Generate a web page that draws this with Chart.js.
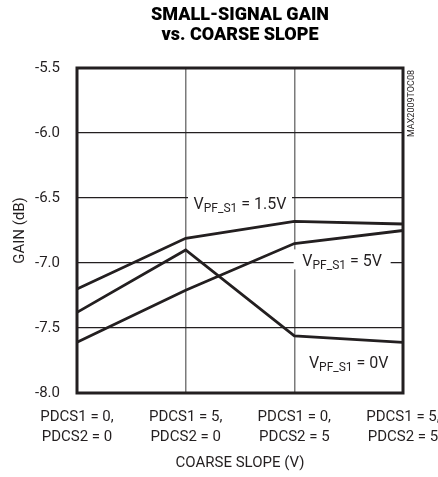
<!DOCTYPE html>
<html>
<head>
<meta charset="utf-8">
<script src="https://cdn.jsdelivr.net/npm/chart.js@4"></script>
<style>
  html, body { margin: 0; padding: 0; background: #fff; }
  #wrap { width: 438px; height: 477px; }
</style>
</head>
<body>
<div id="wrap"><canvas id="chart"></canvas></div>
<script>
// data
const slopeLabels = [
  ['PDCS1 = 0,', 'PDCS2 = 0'],
  ['PDCS1 = 5,', 'PDCS2 = 0'],
  ['PDCS1 = 0,', 'PDCS2 = 5'],
  ['PDCS1 = 5,', 'PDCS2 = 5']
];
const gain15V = [-7.20, -6.81, -6.68, -6.70];
const gain0V = [-7.38, -6.90, -7.56, -7.61];
const gain5V = [-7.61, -7.21, -6.85, -6.75];

// curve labels, in data units (x = category index, y = dB)
const curveNotes = [
  { sub: 'PF_S1', rest: ' = 1.5V', x: 1.5, y: -6.54, box: 104 },
  { sub: 'PF_S1', rest: ' = 5V', x: 2.44, y: -6.98, box: 97 },
  { sub: 'PF_S1', rest: ' = 0V', x: 2.5, y: -7.76, box: 0 }
];

const FONT = 'Roboto, "Liberation Sans", sans-serif';
const INK = '#231f20';

const framePlugin = {
  id: 'frame',
  afterDraw(chart) {
    const { ctx, chartArea: a, scales } = chart;
    ctx.save();
    // curve labels
    curveNotes.forEach(n => {
      const px = scales.x.getPixelForValue(n.x);
      const py = scales.y.getPixelForValue(n.y);
      ctx.font = '16px ' + FONT;
      const wV = ctx.measureText('V').width;
      const wR = ctx.measureText(n.rest).width;
      ctx.font = '12px ' + FONT;
      const wS = ctx.measureText(n.sub).width;
      const total = wV + wS + wR;
      if (n.box) {
        ctx.fillStyle = '#fff';
        ctx.fillRect(px - n.box / 2, py - 11, n.box, 20);
      }
      ctx.fillStyle = INK;
      ctx.textBaseline = 'alphabetic';
      ctx.textAlign = 'left';
      let x0 = px - total / 2;
      const base = py + 6;
      ctx.font = '16px ' + FONT;
      ctx.fillText('V', x0, base);
      ctx.font = '12px ' + FONT;
      ctx.fillText(n.sub, x0 + wV, base + 3);
      ctx.font = '16px ' + FONT;
      ctx.fillText(n.rest, x0 + wV + wS, base);
    });
    // frame
    ctx.strokeStyle = INK;
    ctx.lineWidth = 3;
    ctx.strokeRect(a.left, a.top, a.right - a.left, a.bottom - a.top);
    // figure id
    ctx.translate(a.right + 9, a.top + 2);
    ctx.rotate(-Math.PI / 2);
    ctx.font = '9px ' + FONT;
    ctx.fillStyle = INK;
    ctx.textAlign = 'right';
    ctx.textBaseline = 'middle';
    ctx.fillText('MAX2009TOC08', 0, 0);
    ctx.restore();
  }
};

function line(data) {
  return {
    data: data,
    borderColor: INK,
    borderWidth: 2.8,
    pointRadius: 0,
    tension: 0,
    fill: false
  };
}

new Chart(document.getElementById('chart'), {
  type: 'line',
  data: {
    labels: slopeLabels,
    datasets: [line(gain15V), line(gain0V), line(gain5V)]
  },
  options: {
    responsive: true,
    maintainAspectRatio: false,
    animation: false,
    layout: { padding: { left: 0, right: 35, top: 0, bottom: 0 } },
    plugins: {
      legend: { display: false },
      tooltip: { enabled: false },
      title: {
        display: true,
        fullSize: false,
        text: ['SMALL-SIGNAL GAIN', 'vs. COARSE SLOPE'],
        color: '#000',
        font: { family: FONT, size: 18, weight: '900', lineHeight: 20 / 18 },
        padding: { top: 5, bottom: 23 }
      }
    },
    scales: {
      x: {
        type: 'category',
        offset: false,
        border: { display: false },
        grid: {
          drawTicks: false,
          color: ctx => (ctx.index === 1 || ctx.index === 2) ? '#7a7a7a' : 'rgba(0,0,0,0)',
          lineWidth: 1.5
        },
        ticks: {
          color: INK,
          padding: 14,
          maxRotation: 0,
          autoSkip: false,
          font: { family: FONT, size: 15, lineHeight: 20 / 15 }
        },
        title: {
          display: true,
          text: 'COARSE SLOPE (V)',
          color: INK,
          font: { family: FONT, size: 15, lineHeight: 1.2 },
          padding: { top: 0, bottom: 5 }
        },
        afterFit(scale) {
          scale.height = 84;
          scale.paddingLeft = 0;
          scale.paddingRight = 0;
        }
      },
      y: {
        min: -8,
        max: -5.5,
        border: { display: false },
        grid: {
          drawTicks: false,
          color: INK,
          lineWidth: 1.2
        },
        ticks: {
          stepSize: 0.5,
          color: INK,
          padding: 17,
          font: { family: FONT, size: 15 },
          callback: v => v.toFixed(1)
        },
        title: {
          display: true,
          text: 'GAIN (dB)',
          color: INK,
          font: { family: FONT, size: 15, lineHeight: 1.2 },
          padding: { top: 11, bottom: 0 }
        },
        afterFit(scale) {
          scale.width = 77;
        }
      }
    }
  },
  plugins: [framePlugin]
});
</script>
</body>
</html>
